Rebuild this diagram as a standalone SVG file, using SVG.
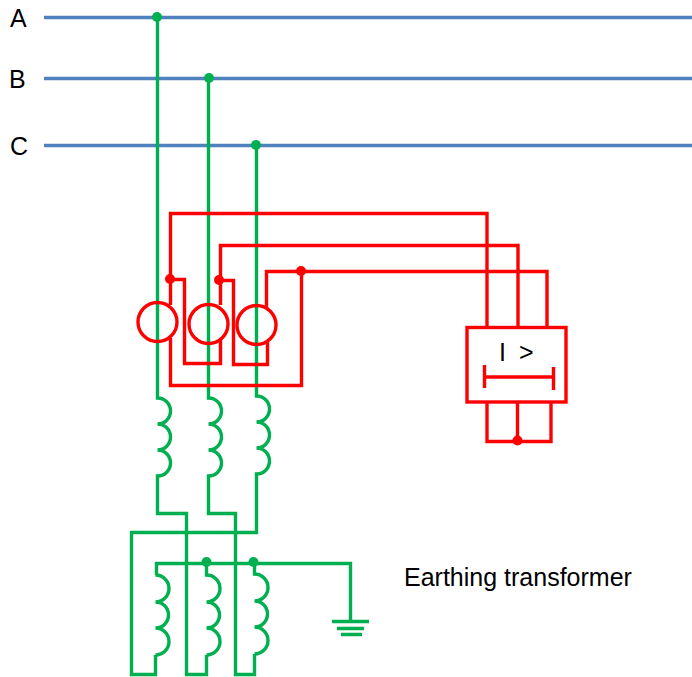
<svg xmlns="http://www.w3.org/2000/svg" width="692" height="677" viewBox="0 0 692 677">
<style>
text{font-family:"Liberation Sans",Arial,sans-serif;font-size:25px;fill:#000}
path,line,circle,rect{fill:none;stroke-width:3.400}
.b{stroke:#4f81bd}
.g{stroke:#00b050}
.r{stroke:#ff0000}
.gd{fill:#00b050;stroke:none}
.rd{fill:#ff0000;stroke:none}
</style>
<rect width="692" height="677" fill="#fff" stroke="none"/>
<g id="connectors">
<path class="b" d="M44 17.500H692M44 78.500H692M44 145.500H692"/>
<path class="g" d="M157.500 17V398a13 13 0 0 1 0 26a13 13 0 0 1 0 26a13 13 0 0 1 0 26V513.500H186.500V674.500H206.500V655"/>
<path class="g" d="M208.500 78V398a13 13 0 0 1 0 26a13 13 0 0 1 0 26a13 13 0 0 1 0 26V513.500H235.500V674.500H254.500V654"/>
<path class="g" d="M256.500 145V396a13 13 0 0 1 0 26a13 13 0 0 1 0 26a13 13 0 0 1 0 26V532.500H131.500V674.500H155.500V655"/>
<path class="g" d="M155.500 655a13 13 0 0 0 0 -27a13 13 0 0 0 0 -26a13 13 0 0 0 0 -27H156.500V563.500H350.500V621"/>
<path class="g" d="M206.500 655a13 13 0 0 0 0 -27a13 13 0 0 0 0 -26a13 13 0 0 0 0 -27V562"/>
<path class="g" d="M254.500 654a13 13 0 0 0 0 -27a13 13 0 0 0 0 -26a13 13 0 0 0 0 -27V562"/>
<path class="g" d="M332 621.500H369M337 628.500H364M341 634.500H362"/>
<path class="r" d="M170.500 305V213.500H487V327.500"/>
<path class="r" d="M220.500 305V245.500H518V327.500"/>
<path class="r" d="M266.500 309V271.500H547V327.500"/>
<path class="r" d="M170 279.500H184.500V363.500H220.500V340"/>
<path class="r" d="M219 280.500H233.500V364.500H267.500V342"/>
<path class="r" d="M170.500 338V385.500H301.500V271"/>
<path class="r" d="M487 402V441.500H551V402M517.500 402V441"/>
</g>
<g id="bus-labels">
<text x="10" y="27">A</text>
<text x="9" y="88">B</text>
<text x="10" y="155">C</text>
</g>
<g id="junctions">
<circle class="gd" cx="157" cy="17" r="5"/>
<circle class="gd" cx="209" cy="78" r="5"/>
<circle class="gd" cx="256" cy="145" r="5"/>
<circle class="gd" cx="206.500" cy="562" r="5"/>
<circle class="gd" cx="253.500" cy="562" r="5"/>
<circle class="rd" cx="170" cy="279" r="5"/>
<circle class="rd" cx="219" cy="280" r="5"/>
<circle class="rd" cx="301" cy="271" r="5"/>
<circle class="rd" cx="517.500" cy="440.500" r="5"/>
</g>
<g id="ct-a"><circle class="r" cx="157.500" cy="322" r="19.500"/></g>
<g id="ct-b"><circle class="r" cx="208.500" cy="324" r="19.500"/></g>
<g id="ct-c"><circle class="r" cx="256.500" cy="325" r="19.500"/></g>
<g id="relay">
<rect class="r" x="467" y="327.500" width="99" height="74.500"/>
<path class="r" d="M484.500 365V388M553.500 367V390M484.500 377H553.500"/>
<text x="499" y="361">I</text>
<text x="519" y="361">&gt;</text>
</g>
<g id="earthing-label"><text x="404" y="586">Earthing transformer</text></g>
</svg>
